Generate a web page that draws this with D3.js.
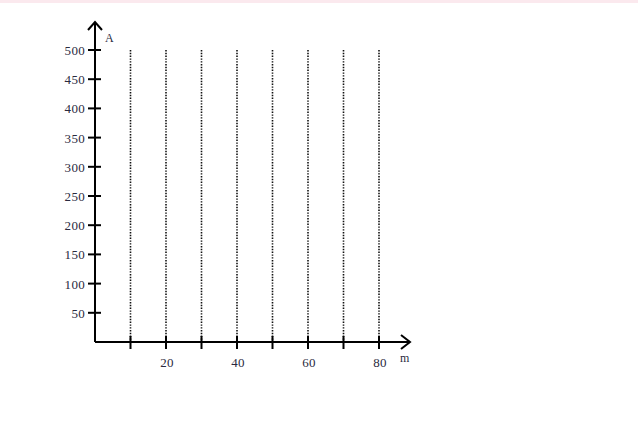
<!DOCTYPE html>
<html lang="en">
<head>
  <meta charset="UTF-8">
  <title>A vs m grid</title>
  <script src="https://d3js.org/d3.v7.min.js"></script>
  <style>
    body { margin: 0; background: #fff; }
    .axis text, .axis-label {
      font-family: "Liberation Serif", "DejaVu Serif", serif;
      font-size: 13px;
      letter-spacing: 0.3px;
      fill: #2a2a40;
    }
    .axis path, .axis line {
      stroke: #000;
      stroke-width: 2;
    }
    .axis-label {
      font-size: 12px;
    }
    .grid-line {
      stroke: #111;
      stroke-width: 1.6;
      stroke-dasharray: 1.4,1.4;
    }
  </style>
</head>
<body>
<svg width="638" height="421"></svg>
<script>
  const width = 638;
  const height = 421;

  // tick values
  const yTicks = [50, 100, 150, 200, 250, 300, 350, 400, 450, 500];
  const xTicks = [10, 20, 30, 40, 50, 60, 70, 80];
  const xLabels = [20, 40, 60, 80];
  const gridX = [10, 20, 30, 40, 50, 60, 70, 80];
  const gridTop = 500;

  const svg = d3.select("svg");

  // faint pink strip along the top edge
  svg.append("rect")
    .attr("x", 0).attr("y", 0)
    .attr("width", width).attr("height", 3)
    .attr("fill", "#fbe9ee");

  const origin = {x: 95, y: 342};
  const x = d3.scaleLinear().domain([0, 80]).range([origin.x, 379]);
  const y = d3.scaleLinear().domain([0, 500]).range([origin.y, 50]);

  // dotted vertical lines
  svg.append("g")
    .selectAll("line")
    .data(gridX)
    .join("line")
    .attr("class", "grid-line")
    .attr("x1", d => x(d)).attr("x2", d => x(d))
    .attr("y1", y(gridTop)).attr("y2", y(0));

  // axes
  const xAxis = svg.append("g").attr("class", "axis");
  xAxis.append("line")
    .attr("x1", origin.x).attr("x2", 410)
    .attr("y1", origin.y).attr("y2", origin.y);
  xAxis.append("path")
    .attr("d", `M401,${origin.y - 7} L410,${origin.y} L401,${origin.y + 7}`)
    .attr("fill", "none").attr("stroke-width", 2.6);
  xAxis.selectAll(".tick")
    .data(xTicks)
    .join("line")
    .attr("x1", d => x(d)).attr("x2", d => x(d))
    .attr("y1", origin.y - 6).attr("y2", origin.y + 7);
  xAxis.selectAll("text")
    .data(xLabels)
    .join("text")
    .attr("x", d => x(d) + 1)
    .attr("y", 367)
    .attr("text-anchor", "middle")
    .text(d => d);

  const yAxis = svg.append("g").attr("class", "axis");
  yAxis.append("line")
    .attr("x1", origin.x).attr("x2", origin.x)
    .attr("y1", origin.y).attr("y2", 23);
  yAxis.append("path")
    .attr("d", `M${origin.x - 7},30 L${origin.x},22 L${origin.x + 7},30`)
    .attr("fill", "none").attr("stroke-width", 2.6);
  yAxis.selectAll(".tick")
    .data(yTicks)
    .join("line")
    .attr("x1", origin.x - 7).attr("x2", origin.x + 6)
    .attr("y1", d => y(d)).attr("y2", d => y(d));
  yAxis.selectAll("text")
    .data(yTicks)
    .join("text")
    .attr("x", 85)
    .attr("y", d => y(d))
    .attr("dy", "0.38em")
    .attr("text-anchor", "end")
    .text(d => d);

  svg.append("text")
    .attr("class", "axis-label")
    .attr("x", 105).attr("y", 42)
    .text("A");

  svg.append("text")
    .attr("class", "axis-label")
    .attr("x", 400).attr("y", 362)
    .text("m");
</script>
</body>
</html>
